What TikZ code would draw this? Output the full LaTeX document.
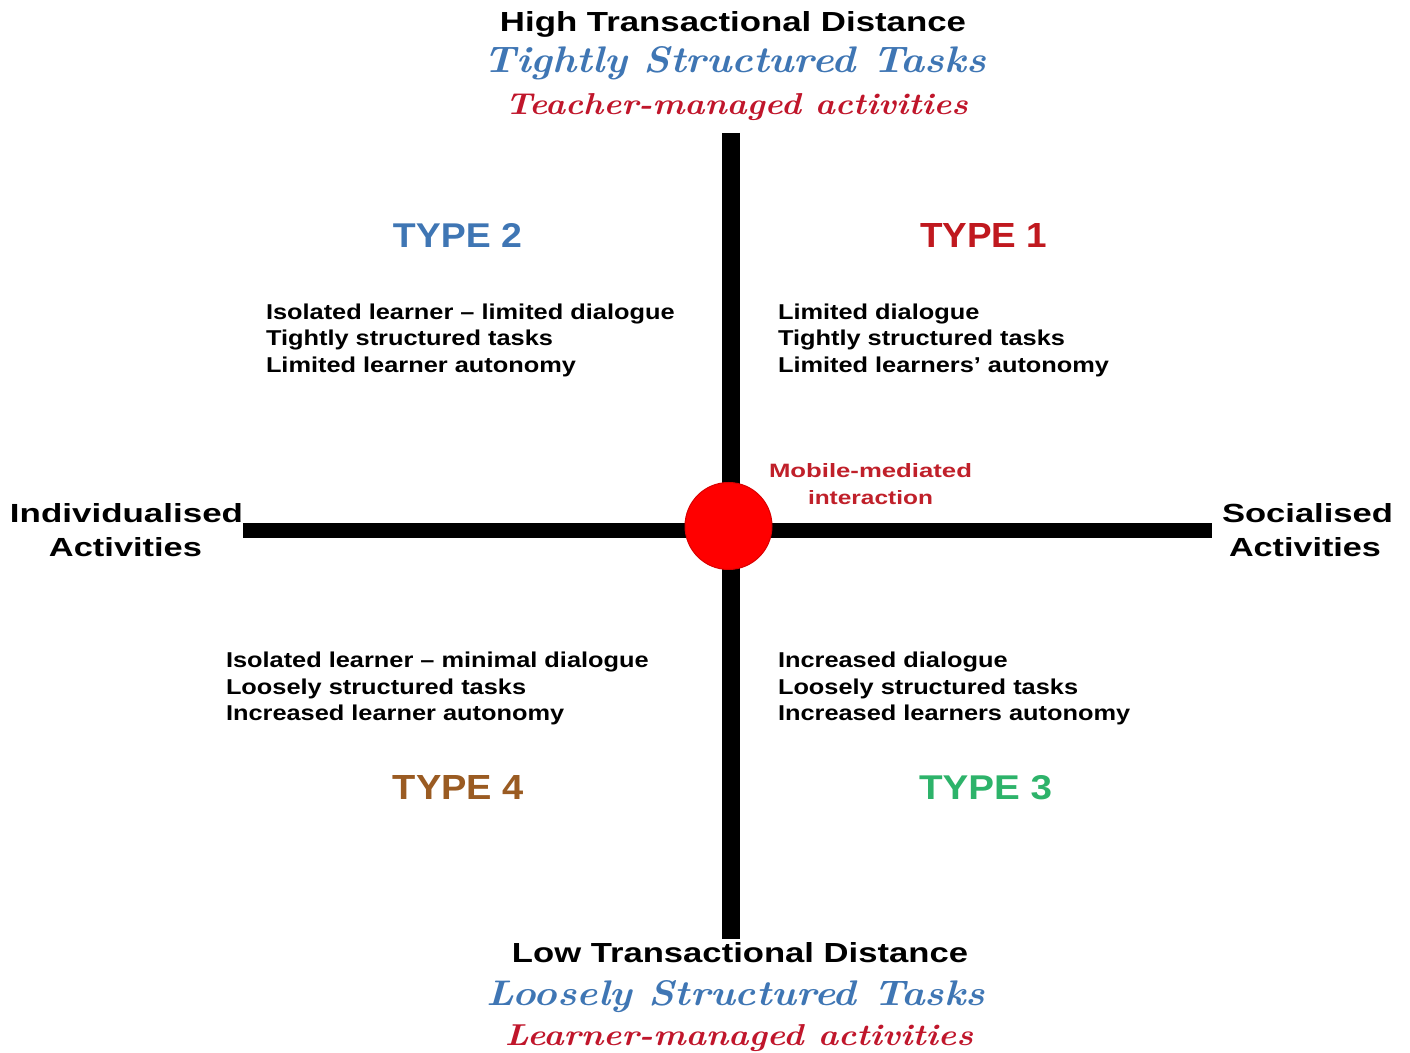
\documentclass[tikz,border=0pt]{standalone}
\usepackage{fontspec}
\usepackage{graphicx}
\newfontfamily\sansb{Liberation Sans}
\newlength\px
\setlength\px{0.02cm}
\newcommand\fitbox[3]{\resizebox{#1\px}{#2\px}{#3}}
\newcommand\bodytext[1]{\scalebox{1.18}[1]{\sansb\bfseries\fontsize{12.23}{14.8}\selectfont\begin{tabular}[t]{@{}l@{}}#1\end{tabular}}}
\definecolor{tblue}{HTML}{3F76B4}
\definecolor{tred}{HTML}{C0162B}
\definecolor{typered}{HTML}{C0191F}
\definecolor{typebrown}{HTML}{9A5B22}
\definecolor{typegreen}{HTML}{2DB36A}
\definecolor{mobred}{HTML}{C0202A}
\begin{document}
\begin{tikzpicture}[x=0.02cm,y=-0.02cm,
  lbl/.style={inner sep=0pt,outer sep=0pt,anchor=base},
  blk/.style={inner sep=0pt,outer sep=0pt,anchor=base west},
  axisline/.style={draw=black,line cap=butt},
  hubnode/.style={circle,fill=red,draw=red!85!black,line width=1\px,minimum size=87\px,inner sep=0pt}]
\fill[white] (0,0) rectangle (1410,1053);
\useasboundingbox (0,0) rectangle (1410,1053);

% titles
\node[lbl] (hi) at (733,32) {\fitbox{466}{20}{\sansb\bfseries High Transactional Distance}};
\node[lbl,text=tblue] (tight) at (735,73) {\fitbox{502}{26}{\bfseries\itshape Tightly Structured Tasks}};
\node[lbl,text=tred] (teach) at (736.5,115) {\fitbox{463}{21}{\bfseries\itshape Teacher-managed activities}};
\node[lbl] (lo) at (740,962) {\fitbox{456}{20}{\sansb\bfseries Low Transactional Distance}};
\node[lbl,text=tblue] (loose) at (736,1005) {\fitbox{498}{25}{\bfseries\itshape Loosely Structured Tasks}};
\node[lbl,text=tred] (learn) at (739,1045) {\fitbox{468}{21}{\bfseries\itshape Learner-managed activities}};

% side labels
\node[lbl] (ind1) at (126.5,523) {\fitbox{233}{19}{\sansb\bfseries Individualised}};
\node[lbl] (ind2) at (125.5,557) {\fitbox{153}{19}{\sansb\bfseries Activities}};
\node[lbl] (soc1) at (1307.5,523) {\fitbox{171}{19}{\sansb\bfseries Socialised}};
\node[lbl] (soc2) at (1305,557) {\fitbox{152}{19}{\sansb\bfseries Activities}};

% type labels
\node[lbl,text=tblue] (t2) at (457.5,248) {\fitbox{129}{24}{\sansb\bfseries TYPE 2}};
\node[lbl,text=typered] (t1) at (983.5,248) {\fitbox{127}{24}{\sansb\bfseries TYPE 1}};
\node[lbl,text=typebrown] (t4) at (458.5,800) {\fitbox{131}{24}{\sansb\bfseries TYPE 4}};
\node[lbl,text=typegreen] (t3) at (985.5,800) {\fitbox{133}{24}{\sansb\bfseries TYPE 3}};

% quadrant texts
\node[blk] (q2) at (266,320) {\bodytext{Isolated learner – limited dialogue\\Tightly structured tasks\\Limited learner autonomy}};
\node[blk] (q1) at (778,320) {\bodytext{Limited dialogue\\Tightly structured tasks\\Limited learners’ autonomy}};
\node[blk] (q4) at (226,668) {\bodytext{Isolated learner – minimal dialogue\\Loosely structured tasks\\Increased learner autonomy}};
\node[blk] (q3) at (778,668) {\bodytext{Increased dialogue\\Loosely structured tasks\\Increased learners autonomy}};

% axes
\coordinate (vt) at (731,133);
\coordinate (vb) at (731,939);
\coordinate (hl) at (243,530.5);
\coordinate (hr) at (1212,530.5);
\draw[axisline,line width=18\px] (vt) -- (vb);
\draw[axisline,line width=15\px] (hl) -- (hr);
\node[hubnode] (hub) at (728.5,526) {};

% hub label
\node[lbl,text=mobred] (mob1) at (870.5,478) {\fitbox{203}{14}{\sansb\bfseries Mobile-mediated}};
\node[lbl,text=mobred] (mob2) at (870.5,505) {\fitbox{125}{14}{\sansb\bfseries interaction}};
\end{tikzpicture}
\end{document}
